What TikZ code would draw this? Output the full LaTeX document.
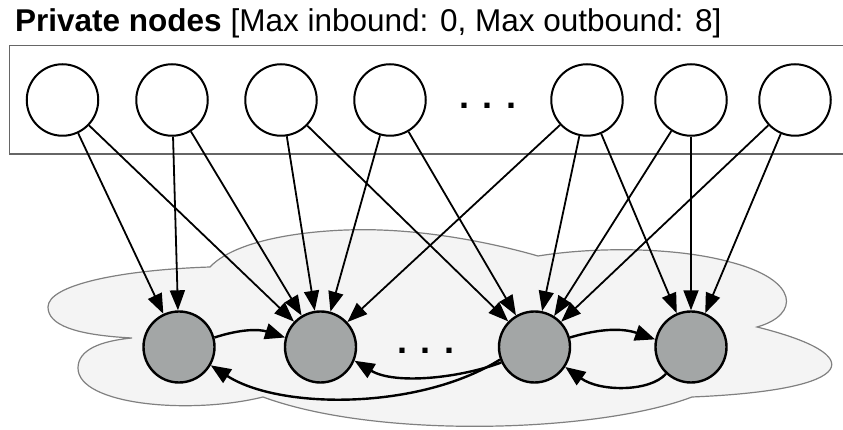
\documentclass[tikz,border=0pt]{standalone}
\usepackage{fontspec}
\setmainfont{Liberation Sans}
\usetikzlibrary{arrows.meta}
\definecolor{nodegray}{RGB}{163,166,166}
\definecolor{cloudfill}{RGB}{244,244,244}
\definecolor{cloudline}{RGB}{128,128,128}
\definecolor{boxline}{RGB}{102,102,102}
\begin{document}
\begin{tikzpicture}[x=1pt,y=1pt,
  privnode/.style={circle,draw=black,line width=2pt,fill=white,minimum size=71.5pt,inner sep=0pt},
  pubnode/.style={circle,draw=black,line width=2.4pt,fill=nodegray,minimum size=71pt,inner sep=0pt},
  conn/.style={line width=1.8pt,-{Triangle[length=20pt,width=15pt]}},
  loopconn/.style={line width=2.4pt,-{Triangle[length=20pt,width=16pt]}},
  dotstyle/.style={font=\fontsize{36}{36}\selectfont\bfseries,inner sep=0pt}]
\useasboundingbox (0,0) rectangle (843,430);
% title
\node[anchor=base west,inner sep=0pt,font=\fontsize{31.5}{36}\selectfont] (title) at (15,398)
  {\textbf{Private nodes} [Max inbound: 0, Max outbound: 8]};
% private box (open on the right)
\draw[boxline,line width=1.2pt] (843,384.3) -- (9.3,384.3) -- (9.3,276) -- (843,276);
% cloud
\draw[cloudline,fill=cloudfill,line width=1.2pt]
  (210,163) .. controls (240,195) and (330,202) .. (380,200)
  .. controls (440,198) and (500,185) .. (538,174)
  .. controls (600,184) and (680,182) .. (730,168)
  .. controls (800,150) and (800,115) .. (757,103)
  .. controls (870,75) and (860,40) .. (692,33)
  .. controls (600,-2) and (380,-10) .. (263,33)
  .. controls (190,15) and (78,25) .. (78,62)
  .. controls (78,80) and (100,89) .. (132,92)
  .. controls (75,95) and (48,105) .. (48,123)
  .. controls (48,145) and (120,160) .. (210,163) -- cycle;
% private nodes
\node[privnode] (t1) at (62.5,330) {};
\node[privnode] (t2) at (172,330) {};
\node[privnode] (t3) at (281,330) {};
\node[privnode] (t4) at (390,330) {};
\node[dotstyle] (tdots) at (488,324) {. . .};
\node[privnode] (t5) at (587,330) {};
\node[privnode] (t6) at (691,330) {};
\node[privnode] (t7) at (795,330) {};
% public nodes
\node[pubnode] (b1) at (179,83) {};
\node[pubnode] (b2) at (320.5,83) {};
\node[dotstyle] (bdots) at (426,79) {. . .};
\node[pubnode] (b3) at (534.5,83) {};
\node[pubnode] (b4) at (691,83) {};
% outbound connections
\draw[conn] (t1) -- (b1);
\draw[conn] (t1) -- (b2);
\draw[conn] (t2) -- (b1);
\draw[conn] (t2) -- (b2);
\draw[conn] (t3) -- (b2);
\draw[conn] (t3) -- (b3);
\draw[conn] (t4) -- (b2);
\draw[conn] (t4) -- (b3);
\draw[conn] (t5) -- (b2);
\draw[conn] (t5) -- (b3);
\draw[conn] (t5) -- (b4);
\draw[conn] (t6) -- (b3);
\draw[conn] (t6) -- (b4);
\draw[conn] (t7) -- (b3);
\draw[conn] (t7) -- (b4);
% public connections
\draw[loopconn] (b1.15) to[bend left=18] (b2.165);
\draw[loopconn] (b3.15) to[bend left=18] (b4.168);
\draw[loopconn] (b3.205) .. controls (460,52) and (395,45) .. (b2.-22);
\draw[loopconn] (b3.200) .. controls (420,20) and (280,20) .. (b1.-30);
\draw[loopconn] (b4.227) .. controls (650,38) and (600,38) .. (b3.-33);
\end{tikzpicture}
\end{document}
